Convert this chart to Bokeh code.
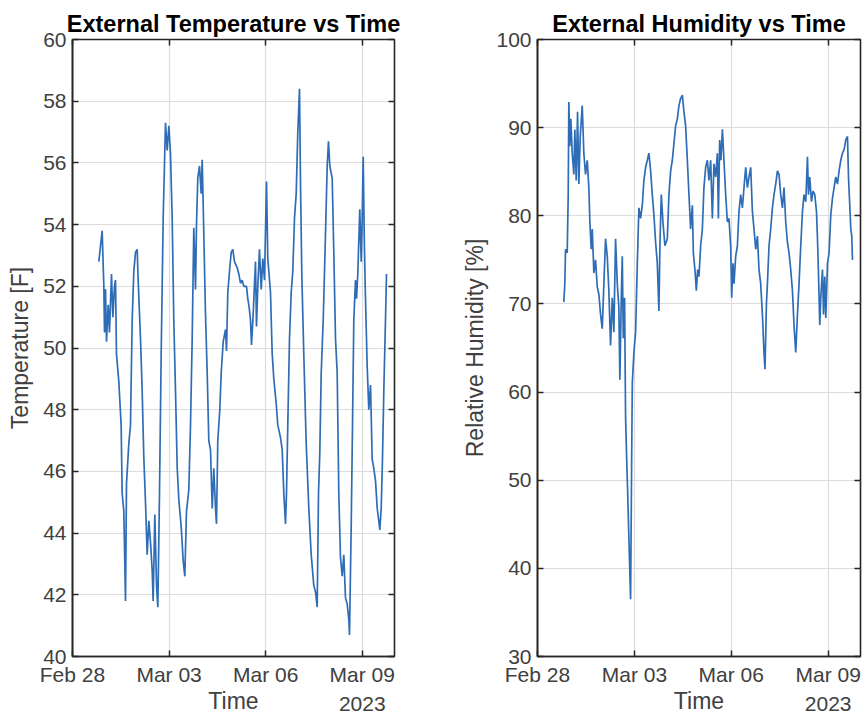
import pandas as pd
from bokeh.plotting import figure
from bokeh.layouts import row
from bokeh.models import (FixedTicker, LinearAxis, DatetimeAxis, Range1d,
                          CustomLabelingPolicy)
from bokeh.embed import file_html
from bokeh.resources import INLINE

# ---------------- data ----------------
start_date = "2023-02-28"
x_end_days = 10
year_text = "2023"

tick_days = [0, 3, 6, 9]
tick_labels = ["Feb 28", "Mar 03", "Mar 06", "Mar 09"]

temp_ticks = [40, 42, 44, 46, 48, 50, 52, 54, 56, 58, 60]
hum_ticks = [30, 40, 50, 60, 70, 80, 90, 100]

# days since Feb 28 00:00
temp_days = [
    0.818, 0.921, 0.973, 0.994, 1.025, 1.056, 1.108, 1.149, 1.211, 1.253, 1.304, 1.335,
    1.366, 1.439, 1.511, 1.542, 1.594, 1.646, 1.677, 1.749, 1.801, 1.853, 1.905, 1.957,
    2.008, 2.039, 2.112, 2.164, 2.216, 2.267, 2.319, 2.371, 2.422, 2.474, 2.505, 2.557,
    2.609, 2.650, 2.702, 2.754, 2.816, 2.888, 2.940, 2.992, 3.043, 3.096, 3.146, 3.199,
    3.252, 3.301, 3.376, 3.438, 3.488, 3.540, 3.612, 3.665, 3.717, 3.767, 3.820, 3.851,
    3.891, 3.944, 3.997, 4.028, 4.078, 4.130, 4.183, 4.233, 4.286, 4.339, 4.388, 4.441,
    4.472, 4.512, 4.575, 4.618, 4.680, 4.752, 4.783, 4.823, 4.885, 4.929, 4.978, 5.031,
    5.115, 5.165, 5.217, 5.270, 5.320, 5.404, 5.444, 5.488, 5.528, 5.559, 5.612, 5.683,
    5.714, 5.755, 5.807, 5.860, 5.910, 5.963, 6.025, 6.065, 6.149, 6.202, 6.252, 6.326,
    6.376, 6.460, 6.512, 6.562, 6.615, 6.646, 6.686, 6.739, 6.792, 6.842, 6.894, 6.947,
    6.997, 7.050, 7.081, 7.121, 7.183, 7.258, 7.339, 7.413, 7.494, 7.547, 7.599, 7.640,
    7.680, 7.724, 7.786, 7.857, 7.910, 7.950, 7.991, 8.065, 8.115, 8.168, 8.220, 8.270,
    8.323, 8.376, 8.425, 8.478, 8.531, 8.581, 8.602, 8.655, 8.696, 8.736, 8.789, 8.820,
    8.860, 8.922, 8.966, 8.997, 9.028, 9.059, 9.090, 9.152, 9.202, 9.255, 9.307, 9.357,
    9.410, 9.463, 9.512, 9.543, 9.587, 9.627, 9.668, 9.720, 9.752,
]
temp_vals = [
    52.8, 53.8, 52.0, 50.5, 51.9, 50.2, 51.4, 50.5, 52.4, 51.0, 52.0, 52.2,
    49.8, 48.9, 47.5, 45.3, 44.7, 41.8, 45.6, 46.9, 47.5, 50.9, 52.5, 53.1,
    53.2, 52.2, 50.3, 48.6, 46.4, 45.0, 43.3, 44.4, 43.7, 42.8, 41.8, 44.6,
    42.3, 41.6, 45.3, 49.8, 54.2, 57.3, 56.4, 57.2, 56.3, 54.2, 50.9, 48.6,
    46.1, 45.1, 44.2, 43.1, 42.6, 44.7, 45.4, 47.5, 50.3, 53.9, 51.9, 54.0,
    55.5, 55.9, 55.0, 56.1, 53.7, 51.1, 49.2, 47.0, 46.7, 44.8, 46.1, 44.8,
    44.3, 47.0, 48.0, 49.2, 50.2, 50.6, 49.9, 51.8, 52.6, 53.1, 53.2, 52.8,
    52.6, 52.4, 52.1, 52.2, 52.0, 52.0, 51.6, 51.3, 50.9, 50.1, 51.1, 52.8,
    50.7, 52.0, 53.2, 51.9, 52.9, 52.2, 55.4, 52.9, 51.8, 49.8, 49.0, 48.2,
    47.5, 47.1, 46.7, 45.3, 44.3, 45.3, 47.5, 50.3, 51.8, 52.5, 54.2, 55.0,
    57.0, 58.4, 55.3, 52.4, 49.8, 46.9, 44.8, 43.3, 42.3, 42.1, 41.6, 45.3,
    46.6, 49.2, 50.9, 53.7, 55.9, 56.7, 55.9, 55.5, 53.1, 50.3, 49.2, 45.3,
    43.2, 42.6, 43.3, 41.9, 41.7, 41.2, 40.7, 44.2, 47.5, 50.9, 52.2, 51.6,
    52.4, 54.5, 52.8, 54.2, 56.2, 53.7, 52.0, 49.4, 48.0, 48.8, 46.4, 46.1,
    45.7, 44.8, 44.4, 44.1, 44.8, 46.4, 48.6, 50.9, 52.4,
]

hum_days = [
    0.815, 0.846, 0.868, 0.920, 0.951, 0.970, 1.001, 1.032, 1.075, 1.125, 1.156, 1.199,
    1.240, 1.280, 1.323, 1.385, 1.435, 1.487, 1.540, 1.590, 1.621, 1.664, 1.695, 1.745,
    1.797, 1.850, 1.900, 1.952, 2.005, 2.055, 2.107, 2.160, 2.209, 2.262, 2.315, 2.364,
    2.417, 2.470, 2.519, 2.550, 2.594, 2.625, 2.656, 2.696, 2.727, 2.758, 2.789, 2.829,
    2.882, 2.913, 2.935, 2.985, 3.037, 3.090, 3.139, 3.192, 3.245, 3.294, 3.347, 3.400,
    3.449, 3.502, 3.554, 3.604, 3.657, 3.709, 3.759, 3.790, 3.833, 3.883, 3.945, 4.019,
    4.069, 4.122, 4.174, 4.224, 4.276, 4.329, 4.379, 4.431, 4.484, 4.534, 4.586, 4.639,
    4.689, 4.741, 4.794, 4.825, 4.874, 4.918, 4.958, 4.998, 5.051, 5.104, 5.153, 5.206,
    5.259, 5.308, 5.361, 5.414, 5.463, 5.516, 5.569, 5.600, 5.640, 5.680, 5.724, 5.773,
    5.826, 5.879, 5.928, 5.981, 6.012, 6.052, 6.083, 6.136, 6.188, 6.238, 6.291, 6.343,
    6.393, 6.446, 6.498, 6.548, 6.601, 6.653, 6.703, 6.756, 6.808, 6.858, 6.910, 6.963,
    7.012, 7.043, 7.087, 7.118, 7.168, 7.220, 7.273, 7.322, 7.375, 7.428, 7.477, 7.530,
    7.583, 7.632, 7.685, 7.738, 7.787, 7.840, 7.893, 7.942, 7.995, 8.048, 8.097, 8.150,
    8.203, 8.252, 8.305, 8.358, 8.389, 8.429, 8.482, 8.531, 8.584, 8.637, 8.668, 8.699,
    8.739, 8.770, 8.823, 8.854, 8.894, 8.925, 8.978, 9.027, 9.080, 9.132, 9.182, 9.234,
    9.287, 9.337, 9.389, 9.442, 9.492, 9.544, 9.597, 9.628, 9.668, 9.699, 9.730, 9.752,
]
hum_vals = [
    70.2, 72.3, 76.2, 75.8, 82.4, 92.9, 87.9, 91.0, 87.1, 84.7, 89.8, 84.0,
    91.8, 83.6, 89.0, 92.5, 87.1, 84.7, 86.3, 83.2, 79.3, 76.2, 78.5, 73.5,
    75.0, 71.9, 71.1, 68.8, 67.2, 72.3, 77.4, 75.4, 71.5, 65.3, 70.7, 66.8,
    77.4, 72.3, 69.6, 61.4, 70.7, 75.4, 66.1, 70.7, 57.1, 52.8, 49.0, 43.5,
    36.5, 51.3, 61.0, 64.5, 66.8, 74.6, 80.9, 79.7, 81.2, 84.0, 85.5, 86.3,
    87.1, 85.1, 82.4, 80.1, 77.0, 74.6, 69.2, 76.6, 82.4, 79.3, 76.6, 77.4,
    82.4, 85.1, 86.3, 88.2, 90.2, 91.0, 92.5, 93.3, 93.7, 91.8, 90.2, 86.3,
    82.4, 78.5, 81.2, 75.8, 73.9, 71.5, 73.9, 73.1, 76.6, 78.5, 83.2, 85.5,
    86.3, 84.0, 86.3, 79.7, 85.9, 84.4, 87.1, 79.7, 88.6, 86.3, 89.8, 86.3,
    82.4, 79.3, 79.7, 76.6, 70.7, 74.6, 72.3, 75.4, 76.6, 80.5, 82.4, 80.9,
    83.2, 85.5, 83.2, 84.4, 85.5, 80.5, 78.5, 76.2, 77.7, 73.9, 72.3, 68.8,
    64.5, 62.6, 70.0, 72.3, 76.6, 78.5, 80.9, 82.4, 83.6, 85.1, 84.7, 82.4,
    80.9, 83.2, 79.3, 77.0, 75.8, 73.9, 71.5, 67.6, 64.5, 68.8, 72.3, 76.6,
    80.5, 82.4, 81.6, 86.7, 82.4, 84.4, 81.6, 82.8, 82.4, 80.5, 77.4, 73.5,
    67.6, 70.7, 73.9, 68.8, 73.1, 68.4, 74.6, 75.8, 80.1, 82.0, 83.2, 84.4,
    83.6, 85.1, 86.3, 87.1, 87.5, 88.6, 89.0, 84.4, 81.2, 78.5, 77.7, 75.0,
]

# ---------------- styling ----------------
FONT = "Liberation Sans"
LINE_COLOR = "#2e6db6"
AXIS_COLOR = "#262626"
TEXT_COLOR = "#404040"
GRID_COLOR = "#dcdcdc"
H = 717

start = pd.Timestamp(start_date)


def day_ms(d):
    return (start + pd.Timedelta(days=d)).timestamp() * 1000.0


tick_ms = [int(day_ms(d)) for d in tick_days]
x0, x1 = day_ms(0), day_ms(x_end_days)

# last tick label carries the year underneath (as MATLAB does)
tick_text = list(tick_labels)
tick_text[-1] = tick_text[-1] + "\n" + year_text


def hidden_labels():
    return CustomLabelingPolicy(
        code="for (let i = 0; i < indices.size; i++) { indices.unset(i) }\nreturn indices")


def make(days, vals, y_lo, y_hi, yticks, title, ylabel, width, bl, br, ylab_standoff):
    p = figure(width=width, height=H, x_axis_type="datetime",
               output_backend="svg", toolbar_location=None,
               x_range=Range1d(x0, x1), y_range=Range1d(y_lo, y_hi),
               min_border_left=bl, min_border_right=br,
               min_border_top=39, min_border_bottom=58)
    p.background_fill_color = "white"
    p.border_fill_color = "white"
    p.outline_line_color = AXIS_COLOR
    p.outline_line_width = 1.6

    p.line([day_ms(d) for d in days], vals, line_color=LINE_COLOR, line_width=1.7)

    p.title.text = title
    p.title.align = "center"
    p.title.text_font = FONT
    p.title.text_font_size = "23.5px"
    p.title.text_font_style = "bold"
    p.title.text_color = "black"
    p.title.standoff = 5

    xa = p.xaxis[0]
    xa.ticker = FixedTicker(ticks=tick_ms)
    xa.major_label_overrides = {t: lab for t, lab in zip(tick_ms, tick_text)}
    xa.axis_label = "Time"
    ya = p.yaxis[0]
    ya.ticker = FixedTicker(ticks=yticks)
    ya.axis_label = ylabel

    for ax in (xa, ya):
        ax.axis_line_color = AXIS_COLOR
        ax.axis_line_width = 1.6
        ax.major_tick_line_color = AXIS_COLOR
        ax.major_tick_line_width = 1.5
        ax.major_tick_in = 6
        ax.major_tick_out = 0
        ax.minor_tick_line_color = None
        ax.major_label_text_font = FONT
        ax.major_label_text_font_size = "21px"
        ax.major_label_text_color = TEXT_COLOR
        ax.axis_label_text_font = FONT
        ax.axis_label_text_font_size = "23px"
        ax.axis_label_text_font_style = "normal"
        ax.axis_label_text_color = TEXT_COLOR
    xa.major_label_standoff = 6
    xa.major_label_text_line_height = 1.3
    xa.axis_label_standoff = -30
    ya.major_label_standoff = 6
    ya.axis_label_standoff = ylab_standoff

    # inward ticks on the opposite sides (box)
    top = DatetimeAxis(ticker=FixedTicker(ticks=tick_ms))
    right = LinearAxis(ticker=FixedTicker(ticks=yticks))
    for ax in (top, right):
        ax.axis_line_color = None
        ax.major_tick_line_color = AXIS_COLOR
        ax.major_tick_line_width = 1.5
        ax.major_tick_in = 6
        ax.major_tick_out = 0
        ax.minor_tick_line_color = None
        ax.major_label_text_font_size = "0px"
        ax.major_label_standoff = 0
        ax.major_label_policy = hidden_labels()
    p.add_layout(top, "above")
    p.add_layout(right, "right")

    p.xgrid.ticker = FixedTicker(ticks=tick_ms)
    p.ygrid.ticker = FixedTicker(ticks=yticks)
    for g in (p.xgrid[0], p.ygrid[0]):
        g.grid_line_color = GRID_COLOR
        g.grid_line_width = 1.2
    return p


p1 = make(temp_days, temp_vals, 40, 60, temp_ticks,
          "External Temperature vs Time", "Temperature [F]", 440, 72, 46, 7)
p2 = make(hum_days, hum_vals, 30, 100, hum_ticks,
          "External Humidity vs Time", "Relative Humidity [%]", 422, 97, 2, 5)

layout = row(p1, p2)
open("out.html", "w").write(file_html(layout, INLINE))
